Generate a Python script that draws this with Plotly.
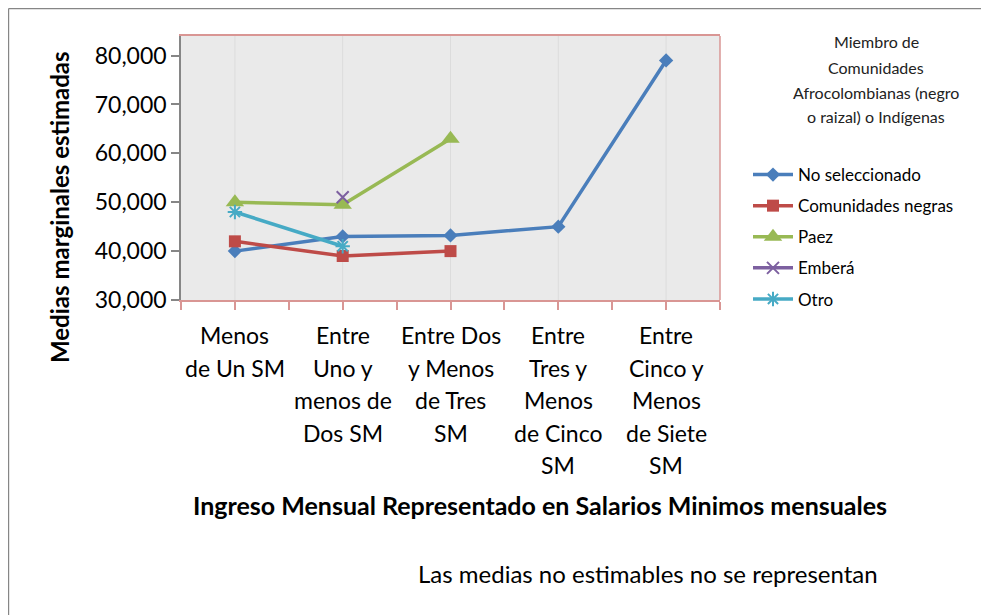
import plotly.graph_objects as go

# ---- data ----
categories = ["Menos\nde Un SM", "Entre\nUno y\nmenos de\nDos SM", "Entre Dos\ny Menos\nde Tres\nSM",
              "Entre\nTres y\nMenos\nde Cinco\nSM", "Entre\nCinco y\nMenos\nde Siete\nSM"]
no_seleccionado = [40000, 43000, 43200, 45000, 79000]
comunidades_negras = [42000, 39000, 40000, None, None]
paez = [50000, 49500, 63000, None, None]
embera = [None, 51000, None, None, None]
otro = [48000, 41000, None, None, None]
y_ticks = [30000, 40000, 50000, 60000, 70000, 80000]
legend_title_lines = ["Miembro de", "Comunidades", "Afrocolombianas (negro", "o raizal) o Indígenas"]

OFF = 8  # page body margin
W, H = 989 - OFF, 615 - OFF
# plot area in reference pixel coordinates
RL, RR, RT, RB = 181, 720, 36, 300
L, R, T, B = RL - OFF, RR - OFF, RT - OFF, RB - OFF

def px(x):  # reference x pixel -> paper
    return (x - RL) / (RR - RL)

def py(y):  # reference y pixel -> paper
    return (RB - y) / (RB - RT)

FONT = "Lato"
xs = list(range(len(categories)))

series = [
    ("No seleccionado", no_seleccionado, "#4A7EBB", "diamond", 11, 0),
    ("Comunidades negras", comunidades_negras, "#BE4B48", "square", 12, 0),
    ("Paez", paez, "#98B954", "triangle-up", 16, 0),
    ("Emberá", embera, "#7D60A0", "x-thin-open", 12, 2),
    ("Otro", otro, "#46AAC5", "asterisk-open", 12, 2),
]

fig = go.Figure()
for name, vals, color, sym, size, lw in series:
    marker = dict(symbol=sym, size=size, color=color)
    if lw:
        marker["line"] = dict(color=color, width=lw)
    fig.add_trace(go.Scatter(
        x=xs, y=vals, name=name, mode="lines+markers",
        line=dict(color=color, width=3.5), marker=marker,
        legendgroup=name, connectgaps=False,
    ))

annotations = []
line_gap = 32.5
for i, lab in enumerate(categories):
    for j, part in enumerate(lab.split("\n")):
        annotations.append(dict(
            x=i, xref="x", y=py(335 + j * line_gap), yref="paper",
            text=part, showarrow=False, xanchor="center", yanchor="middle",
            font=dict(family=FONT, size=23, color="#000000")))

for j, part in enumerate(legend_title_lines):
    annotations.append(dict(
        x=px(876), xref="paper", y=py(42 + j * 25), yref="paper",
        text=part, showarrow=False, xanchor="center", yanchor="middle",
        font=dict(family=FONT, size=16, color="#222222")))

annotations.append(dict(
    x=px(59), xref="paper", y=py(207), yref="paper", textangle=-90,
    text="<b>Medias marginales estimadas</b>", showarrow=False,
    xanchor="center", yanchor="middle",
    font=dict(family=FONT, size=24, color="#000000")))
annotations.append(dict(
    x=px(540), xref="paper", y=py(505), yref="paper",
    text="<b>Ingreso Mensual Representado en Salarios Minimos mensuales</b>", showarrow=False,
    xanchor="center", yanchor="middle",
    font=dict(family=FONT, size=25, color="#000000")))
annotations.append(dict(
    x=px(648), xref="paper", y=py(573), yref="paper",
    text="Las medias no estimables no se representan", showarrow=False,
    xanchor="center", yanchor="middle",
    font=dict(family=FONT, size=24, color="#000000")))

shapes = [
    dict(type="line", xref="paper", yref="paper", x0=px(8.6), x1=px(1000), y0=py(8.6), y1=py(8.6),
         line=dict(color="#868686", width=1.2)),
    dict(type="line", xref="paper", yref="paper", x0=px(8.6), x1=px(8.6), y0=py(8.6), y1=py(630),
         line=dict(color="#868686", width=1.2)),
    dict(type="line", xref="paper", yref="paper", x0=1, x1=1, y0=0, y1=1,
         line=dict(color="#D99694", width=1.5)),
]

half_ticks = [i * 0.5 - 0.5 for i in range(2 * len(categories) + 1)]

fig.update_layout(
    width=W, height=H,
    margin=dict(l=L, r=W - R, t=T, b=H - B, autoexpand=False),
    paper_bgcolor="#FFFFFF", plot_bgcolor="#EAEAEA",
    font=dict(family=FONT, color="#000000"),
    showlegend=True,
    legend=dict(x=px(748), y=py(157), xanchor="left", yanchor="top",
                font=dict(family=FONT, size=17, color="#000000"),
                tracegroupgap=6, bgcolor="rgba(0,0,0,0)", itemwidth=40),
    xaxis=dict(range=[-0.5, len(categories) - 0.5], tickvals=half_ticks,
               ticktext=["" for _ in half_ticks], showticklabels=False,
               ticks="outside", ticklen=8, tickcolor="#D99694", tickwidth=1.5,
               showline=True, linecolor="#D99694", linewidth=1.5, mirror=True,
               showgrid=False, zeroline=False),
    yaxis=dict(range=[30000, 84000], tickvals=y_ticks,
               ticktext=[f"{v:,}" for v in y_ticks],
               tickfont=dict(family=FONT, size=23, color="#000000"),
               ticks="outside", ticklen=8, tickcolor="#868686", tickwidth=1.5,
               showline=True, linecolor="#868686", linewidth=1.5,
               showgrid=False, zeroline=False),
    annotations=annotations, shapes=shapes,
)

for i in xs:
    fig.add_vline(x=i, line=dict(color="#DCDCDC", width=1), layer="below")

fig.write_html("out.html")
